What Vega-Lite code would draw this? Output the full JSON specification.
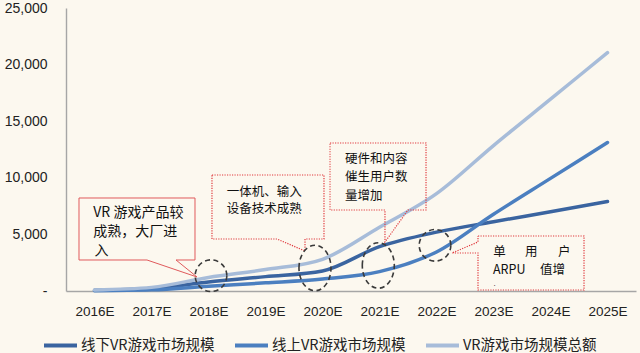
{
  "$schema": "https://vega.github.io/schema/vega-lite/v6.json",
  "autosize": {"type": "none"},
  "width": 570,
  "height": 283,
  "padding": {"left": 66, "top": 8, "right": 4, "bottom": 62},
  "background": "#FCF8EF",
  "config": {
    "view": {"stroke": null},
    "axis": {"grid": false, "ticks": false, "tickSize": 0, "title": null, "labelFont": "Liberation Sans", "labelColor": "#222222", "domainColor": "#A6A6A6", "domainWidth": 1.4}
  },
  "datasets": {
    "lines": [
      {"yr": 2016, "series": "线下VR游戏市场规模", "v": 60},
      {"yr": 2017, "series": "线下VR游戏市场规模", "v": 220},
      {"yr": 2018, "series": "线下VR游戏市场规模", "v": 800},
      {"yr": 2019, "series": "线下VR游戏市场规模", "v": 1270},
      {"yr": 2020, "series": "线下VR游戏市场规模", "v": 1770},
      {"yr": 2021, "series": "线下VR游戏市场规模", "v": 3920},
      {"yr": 2022, "series": "线下VR游戏市场规模", "v": 5200},
      {"yr": 2023, "series": "线下VR游戏市场规模", "v": 6120},
      {"yr": 2024, "series": "线下VR游戏市场规模", "v": 7000},
      {"yr": 2025, "series": "线下VR游戏市场规模", "v": 7900},
      {"yr": 2016, "series": "线上VR游戏市场规模", "v": 30},
      {"yr": 2017, "series": "线上VR游戏市场规模", "v": 100},
      {"yr": 2018, "series": "线上VR游戏市场规模", "v": 420},
      {"yr": 2019, "series": "线上VR游戏市场规模", "v": 720},
      {"yr": 2020, "series": "线上VR游戏市场规模", "v": 1060},
      {"yr": 2021, "series": "线上VR游戏市场规模", "v": 1710},
      {"yr": 2022, "series": "线上VR游戏市场规模", "v": 3450},
      {"yr": 2023, "series": "线上VR游戏市场规模", "v": 6780},
      {"yr": 2024, "series": "线上VR游戏市场规模", "v": 9950},
      {"yr": 2025, "series": "线上VR游戏市场规模", "v": 13120},
      {"yr": 2016, "series": "VR游戏市场规模总额", "v": 90},
      {"yr": 2017, "series": "VR游戏市场规模总额", "v": 320},
      {"yr": 2018, "series": "VR游戏市场规模总额", "v": 1200},
      {"yr": 2019, "series": "VR游戏市场规模总额", "v": 1900},
      {"yr": 2020, "series": "VR游戏市场规模总额", "v": 2800},
      {"yr": 2021, "series": "VR游戏市场规模总额", "v": 5630},
      {"yr": 2022, "series": "VR游戏市场规模总额", "v": 8600},
      {"yr": 2023, "series": "VR游戏市场规模总额", "v": 12850},
      {"yr": 2024, "series": "VR游戏市场规模总额", "v": 16950},
      {"yr": 2025, "series": "VR游戏市场规模总额", "v": 21050}
    ],
    "callouts": [
      {"id": "c1", "k": 0, "yr": 2015.728, "v": 8216},
      {"id": "c1", "k": 1, "yr": 2017.763, "v": 8216},
      {"id": "c1", "k": 2, "yr": 2017.763, "v": 2739},
      {"id": "c1", "k": 3, "yr": 2017.430, "v": 2739},
      {"id": "c1", "k": 4, "yr": 2017.798, "v": 1237},
      {"id": "c1", "k": 5, "yr": 2016.921, "v": 2739},
      {"id": "c1", "k": 6, "yr": 2015.728, "v": 2739},
      {"id": "c1", "k": 7, "yr": 2015.728, "v": 8216},
      {"id": "c2", "k": 0, "yr": 2018.061, "v": 10247},
      {"id": "c2", "k": 1, "yr": 2020.026, "v": 10247},
      {"id": "c2", "k": 2, "yr": 2020.026, "v": 4594},
      {"id": "c2", "k": 3, "yr": 2019.693, "v": 4594},
      {"id": "c2", "k": 4, "yr": 2019.693, "v": 3534},
      {"id": "c2", "k": 5, "yr": 2019.202, "v": 4594},
      {"id": "c2", "k": 6, "yr": 2018.061, "v": 4594},
      {"id": "c2", "k": 7, "yr": 2018.061, "v": 10247},
      {"id": "c3", "k": 0, "yr": 2020.132, "v": 13074},
      {"id": "c3", "k": 1, "yr": 2021.816, "v": 13074},
      {"id": "c3", "k": 2, "yr": 2021.816, "v": 7156},
      {"id": "c3", "k": 3, "yr": 2021.5, "v": 7156},
      {"id": "c3", "k": 4, "yr": 2021.096, "v": 4329},
      {"id": "c3", "k": 5, "yr": 2021.096, "v": 7156},
      {"id": "c3", "k": 6, "yr": 2020.132, "v": 7156},
      {"id": "c3", "k": 7, "yr": 2020.132, "v": 13074},
      {"id": "c4", "k": 0, "yr": 2022.728, "v": 4859},
      {"id": "c4", "k": 1, "yr": 2024.588, "v": 4859},
      {"id": "c4", "k": 2, "yr": 2024.588, "v": 88},
      {"id": "c4", "k": 3, "yr": 2022.728, "v": 88},
      {"id": "c4", "k": 4, "yr": 2022.728, "v": 3357},
      {"id": "c4", "k": 5, "yr": 2022.272, "v": 3357},
      {"id": "c4", "k": 6, "yr": 2022.728, "v": 4329},
      {"id": "c4", "k": 7, "yr": 2022.728, "v": 4859}
    ],
    "notes": [
      {"box": "b1", "yr": 2015.979, "v": 6890, "t": "VR 游戏产品较"},
      {"box": "b1", "yr": 2015.979, "v": 5256, "t": "成熟，大厂进"},
      {"box": "b1", "yr": 2016.0, "v": 3534, "t": "入"},
      {"box": "b2", "yr": 2018.319, "v": 8772, "t": "一体机、输入"},
      {"box": "b2", "yr": 2018.319, "v": 7217, "t": "设备技术成熟"},
      {"box": "b3", "yr": 2020.395, "v": 11620, "t": "硬件和内容"},
      {"box": "b3", "yr": 2020.395, "v": 10071, "t": "催生用户数"},
      {"box": "b3", "yr": 2020.395, "v": 8430, "t": "量增加"},
      {"box": "b4", "yr": 2022.996, "v": 3445, "t": "单"},
      {"box": "b4", "yr": 2023.553, "v": 3445, "t": "用"},
      {"box": "b4", "yr": 2024.132, "v": 3445, "t": "户"},
      {"box": "b4", "yr": 2022.991, "v": 1855, "t": "ARPU"},
      {"box": "b4", "yr": 2023.816, "v": 1855, "t": "值增"},
      {"box": "dot", "yr": 2023.0, "v": 440, "t": "."}
    ],
    "rings": [
      {"id": "E1", "yr": 2018.044, "v": 1352},
      {"id": "E2", "yr": 2019.868, "v": 2032},
      {"id": "E3", "yr": 2020.979, "v": 2253},
      {"id": "E4", "yr": 2021.974, "v": 4037}
    ]
  },
  "encoding": {
    "x": {
      "field": "yr", "type": "quantitative",
      "scale": {"domain": [2015.5, 2025.5], "nice": false, "zero": false},
      "axis": {"values": [2016, 2017, 2018, 2019, 2020, 2021, 2022, 2023, 2024, 2025], "labelExpr": "datum.value + 'E'", "labelFontSize": 13.5, "labelPadding": 13, "labelFlush": false}
    },
    "y": {
      "field": "v", "type": "quantitative",
      "scale": {"domain": [0, 25000], "nice": false},
      "axis": {"values": [0, 5000, 10000, 15000, 20000, 25000], "labelExpr": "datum.value == 0 ? '-' : format(datum.value, ',')", "labelFontSize": 14, "labelPadding": 19}
    }
  },
  "layer": [
    {
      "data": {"name": "lines"},
      "mark": {"type": "line", "interpolate": "monotone", "strokeWidth": 3.5, "strokeCap": "round"},
      "encoding": {
        "color": {
          "field": "series", "type": "nominal",
          "scale": {"domain": ["线下VR游戏市场规模", "线上VR游戏市场规模", "VR游戏市场规模总额"], "range": ["#3A64A0", "#4B7FC0", "#A7BCD9"]},
          "legend": {"orient": "none", "legendX": -24, "legendY": 319, "direction": "horizontal", "title": null, "symbolType": "stroke", "symbolSize": 1089, "symbolStrokeWidth": 4, "labelFont": "Noto Sans CJK SC", "labelFontSize": 14.5, "labelColor": "#222222", "columnPadding": 12, "labelOffset": 2, "padding": 0, "gridAlign": "none"}
        }
      }
    },
    {
      "data": {"name": "callouts"},
      "transform": [{"filter": "datum.id == 'c1'"}],
      "mark": {"type": "line", "stroke": "#E05A5C", "strokeWidth": 1, "interpolate": "linear"},
      "encoding": {"detail": {"field": "id"}, "order": {"field": "k", "type": "quantitative"}}
    },
    {
      "data": {"name": "callouts"},
      "transform": [{"filter": "datum.id != 'c1'"}],
      "mark": {"type": "line", "stroke": "#E03A3E", "strokeWidth": 1.2, "strokeDash": [1.2, 1.3], "interpolate": "linear"},
      "encoding": {"detail": {"field": "id"}, "order": {"field": "k", "type": "quantitative"}}
    },
    {
      "data": {"name": "rings"},
      "transform": [{"filter": "datum.id == 'E1' || datum.id == 'E4'"}],
      "mark": {"type": "point", "shape": "circle", "size": 1000, "filled": false, "stroke": "#3A3A3A", "strokeWidth": 1.6, "strokeDash": [5, 3.5], "opacity": 1}
    },
    {
      "data": {"name": "rings"},
      "transform": [{"filter": "datum.id == 'E2' || datum.id == 'E3'"}],
      "mark": {"type": "point", "shape": "M-1,0A1,1.42,0,1,1,1,0A1,1.42,0,1,1,-1,0Z", "size": 1024, "filled": false, "stroke": "#3A3A3A", "strokeWidth": 1.6, "strokeDash": [5, 3.5], "opacity": 1}
    },
    {
      "data": {"name": "notes"},
      "transform": [{"filter": "datum.box == 'b1'"}],
      "mark": {"type": "text", "align": "left", "baseline": "middle", "font": "Noto Sans CJK SC", "fontSize": 14, "color": "#111111"},
      "encoding": {"text": {"field": "t"}}
    },
    {
      "data": {"name": "notes"},
      "transform": [{"filter": "datum.box != 'b1' && datum.box != 'dot'"}],
      "mark": {"type": "text", "align": "left", "baseline": "middle", "font": "Noto Sans CJK SC", "fontSize": 12.5, "color": "#111111"},
      "encoding": {"text": {"field": "t"}}
    },
    {
      "data": {"name": "notes"},
      "transform": [{"filter": "datum.box == 'dot'"}],
      "mark": {"type": "text", "align": "left", "baseline": "alphabetic", "font": "Liberation Sans", "fontSize": 8, "color": "#111111"},
      "encoding": {"text": {"field": "t"}}
    }
  ]
}
